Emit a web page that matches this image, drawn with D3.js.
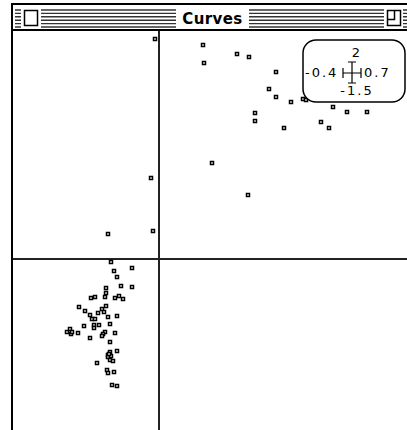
<!DOCTYPE html>
<html>
<head>
<meta charset="utf-8">
<script src="https://cdn.jsdelivr.net/npm/d3@7"></script>
<style>
  body { margin: 0; background: #fff; }
  svg { display: block; }
</style>
</head>
<body>
<div id="chart"></div>
<script>
const width = 407, height = 430;

// x / y values of the points
const xs = [
  0.121, 0.214, 0.247, 0.123, 0.321, 0.301, 0.321, 0.362, 0.395, 0.403,
  0.477, 0.515, 0.570, 0.263, 0.263, 0.342, 0.444, 0.466, 0.145, 0.244,
  -0.011, -0.022, -0.140, -0.016,
  -0.132, -0.073, -0.123, -0.114, -0.105, -0.073, -0.146, -0.144, -0.186, -0.176,
  -0.147, -0.120, -0.109, -0.099, -0.220, -0.204, -0.146, -0.157, -0.152, -0.166,
  -0.189, -0.183, -0.175, -0.141, -0.116, -0.134, -0.205, -0.178, -0.178, -0.164,
  -0.253, -0.245, -0.241, -0.237, -0.222, -0.148, -0.153, -0.157, -0.120, -0.189,
  -0.135, -0.116, -0.134, -0.139, -0.139, -0.134, -0.131, -0.127, -0.137, -0.171,
  -0.143, -0.139, -0.123, -0.128, -0.116
];
const ys = [
  1.877, 1.798, 1.772, 1.719, 1.640, 1.491, 1.421, 1.377, 1.404, 1.395,
  1.333, 1.289, 1.289, 1.281, 1.211, 1.149, 1.202, 1.149, 0.842, 0.561,
  1.930, 0.711, 0.219, 0.246,
  -0.026, -0.075, -0.101, -0.158, -0.237, -0.250, -0.252, -0.298, -0.345, -0.335,
  -0.333, -0.346, -0.322, -0.348, -0.423, -0.452, -0.412, -0.441, -0.465, -0.476,
  -0.494, -0.524, -0.524, -0.513, -0.504, -0.570, -0.589, -0.575, -0.605, -0.582,
  -0.636, -0.617, -0.658, -0.636, -0.651, -0.642, -0.654, -0.674, -0.651, -0.696,
  -0.732, -0.803, -0.813, -0.842, -0.864, -0.886, -0.851, -0.899, -0.829, -0.910,
  -0.976, -1.003, -0.991, -1.105, -1.118
];

// range shown in the info box
const xRange = [-0.4, 0.7];
const yRange = [-1.5, 2];
const boxLabels = {top: '2', left: '-0.4', right: '0.7', bottom: '-1.5'};

const win = {left: 12, top: 4, right: 415, titleH: 26};

const svg = d3.select('#chart').append('svg')
    .attr('width', width)
    .attr('height', height);

// window frame
svg.append('rect')
    .attr('x', win.left).attr('y', win.top)
    .attr('width', win.right - win.left).attr('height', height + 10)
    .attr('fill', '#fff').attr('stroke', '#000').attr('stroke-width', 2);

// title bar stripes
const stripes = d3.range(6).map((i) => win.top + 6 + i * 3.4);
const title = svg.append('g');
title.selectAll('line.stripe')
  .data(stripes).enter().append('line')
    .attr('class', 'stripe')
    .attr('x1', win.left + 3).attr('x2', win.right - 3)
    .attr('y1', (d) => d).attr('y2', (d) => d)
    .attr('stroke', '#333').attr('stroke-width', 1.4);

// gaps for close box, title and zoom box
[[21, 41], [176, 249], [384, 403]].forEach((g) => {
  title.append('rect')
      .attr('x', g[0]).attr('y', win.top + 3)
      .attr('width', g[1] - g[0]).attr('height', win.titleH - 5)
      .attr('fill', '#fff');
});
title.append('rect')
    .attr('x', 24.5).attr('y', 10.5).attr('width', 13).attr('height', 15)
    .attr('fill', '#fff').attr('stroke', '#000').attr('stroke-width', 1.5);
title.append('rect')
    .attr('x', 387.5).attr('y', 10.5).attr('width', 13).attr('height', 15)
    .attr('fill', '#fff').attr('stroke', '#000').attr('stroke-width', 1.5);
title.append('path')
    .attr('d', 'M387.5,19.5 H394.5 V10.5')
    .attr('fill', 'none').attr('stroke', '#000').attr('stroke-width', 1.5);
title.append('text')
    .attr('x', 212.5).attr('y', 24)
    .attr('text-anchor', 'middle')
    .style('font-family', 'DejaVu Sans, sans-serif')
    .style('font-weight', 'bold')
    .style('font-size', '15px')
    .style('letter-spacing', '0.4px')
    .text('Curves');

// content top border
svg.append('line')
    .attr('x1', win.left).attr('x2', win.right)
    .attr('y1', win.top + win.titleH).attr('y2', win.top + win.titleH)
    .attr('stroke', '#000').attr('stroke-width', 2);

const x = d3.scaleLinear().domain(xRange).range([13, 414.5]);
const y = d3.scaleLinear().domain([yRange[1], yRange[0]]).range([31, 430]);

// axes through the origin
svg.append('line')
    .attr('x1', x(0)).attr('x2', x(0))
    .attr('y1', 31).attr('y2', height)
    .attr('stroke', '#222').attr('stroke-width', 2);
svg.append('line')
    .attr('x1', 13).attr('x2', win.right)
    .attr('y1', y(0)).attr('y2', y(0))
    .attr('stroke', '#222').attr('stroke-width', 2);

// points
const points = xs.map((d, i) => ({x: d, y: ys[i]}));
svg.selectAll('rect.pt')
  .data(points).enter().append('rect')
    .attr('class', 'pt')
    .attr('x', (d) => Math.round(x(d.x)) - 1.5)
    .attr('y', (d) => Math.round(y(d.y)) - 1.5)
    .attr('width', 3).attr('height', 3)
    .attr('fill', '#fff').attr('stroke', '#000').attr('stroke-width', 1.5);

// range box
const box = svg.append('g').attr('transform', 'translate(303,40)');
box.append('rect')
    .attr('x', 0).attr('y', 0).attr('width', 102).attr('height', 62)
    .attr('rx', 13).attr('ry', 13)
    .attr('fill', '#fff').attr('stroke', '#000').attr('stroke-width', 1.5);

const lbl = (tx, ty, anchor, s) => box.append('text')
    .attr('x', tx).attr('y', ty)
    .attr('text-anchor', anchor)
    .style('font-family', 'DejaVu Sans, sans-serif')
    .style('font-size', '13px')
    .style('letter-spacing', '2px')
    .text(s);
lbl(54, 17, 'middle', boxLabels.top);
lbl(2, 37, 'start', boxLabels.left);
lbl(61, 37, 'start', boxLabels.right);
lbl(54, 55, 'middle', boxLabels.bottom);

// cross icon
box.append('path')
    .attr('d', 'M40,33 H58 M40,28 V38 M58,28 V38 M49,22 V43 M45,22 H53 M45,43 H53')
    .attr('fill', 'none').attr('stroke', '#000').attr('stroke-width', 1.2);
</script>
</body>
</html>
